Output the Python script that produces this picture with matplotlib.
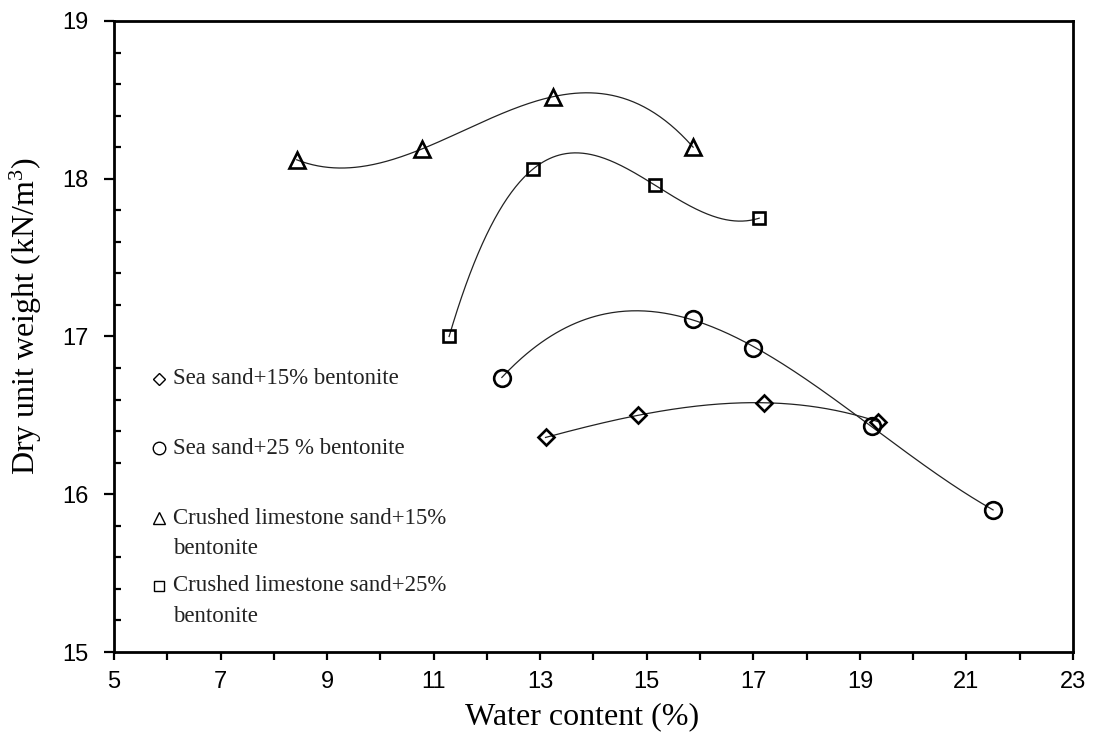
import numpy as np
import matplotlib
matplotlib.use("Agg")
import matplotlib.pyplot as plt
from matplotlib.ticker import MultipleLocator

plt.rcParams['mathtext.fontset'] = 'custom'
plt.rcParams['mathtext.rm'] = 'Liberation Serif'
plt.rcParams['mathtext.it'] = 'Liberation Serif:italic'

# Compaction test results: water content (%) vs dry unit weight (kN/m3)
sea15_w = [13.10, 14.83, 17.20, 19.34]
sea15_gd = [16.36, 16.50, 16.58, 16.46]

sea25_w = [12.28, 15.87, 16.99, 19.23, 21.50]
sea25_gd = [16.74, 17.11, 16.93, 16.43, 15.90]

lime15_w = [8.43, 10.79, 13.24, 15.87]
lime15_gd = [18.12, 18.19, 18.52, 18.20]

lime25_w = [11.29, 12.86, 15.15, 17.11]
lime25_gd = [17.00, 18.06, 17.96, 17.75]

labels = [
    ['Sea sand+15% bentonite'],
    ['Sea sand+25 % bentonite'],
    ['Crushed limestone sand+15%', 'bentonite'],
    ['Crushed limestone sand+25%', 'bentonite'],
]
series = [(sea15_w, sea15_gd), (sea25_w, sea25_gd),
          (lime15_w, lime15_gd), (lime25_w, lime25_gd)]
markers = ['D', 'o', '^', 's']
msizes = [8.5, 12, 12, 9]
leg_msizes = [6.5, 9, 9, 7]

fig = plt.figure(figsize=(10.95, 7.33), dpi=100)
ax = fig.add_axes([0.1041, 0.1105, 0.8758, 0.8609])

for (w, gd), m, ms in zip(series, markers, msizes):
    w = np.array(w)
    gd = np.array(gd)
    # polynomial trend line across the measured range
    coef = np.polyfit(w, gd, 3)
    xs = np.linspace(w.min(), w.max(), 300)
    ax.plot(xs, np.polyval(coef, xs), color='#222222', lw=0.9, zorder=2)
    ax.plot(w, gd, linestyle='none', marker=m, ms=ms, mfc='none',
            mec='black', mew=1.9, zorder=3)

ax.set_xlim(5, 23)
ax.set_ylim(15, 19)

ax.xaxis.set_major_locator(MultipleLocator(2, offset=1))
ax.xaxis.set_minor_locator(MultipleLocator(1))
ax.yaxis.set_major_locator(MultipleLocator(1))
ax.yaxis.set_minor_locator(MultipleLocator(0.2))

ax.tick_params(axis='x', which='both', direction='out', length=6, width=1.6,
               top=False, pad=8)
ax.tick_params(axis='y', which='major', direction='out', length=7, width=1.6,
               right=False, pad=11)
ax.tick_params(axis='y', which='minor', direction='in', length=5, width=1.6,
               right=False)
for lab in ax.get_xticklabels() + ax.get_yticklabels():
    lab.set_family('Liberation Sans')
    lab.set_fontsize(17)

for sp in ax.spines.values():
    sp.set_linewidth(2.0)

ax.set_xlabel('Water content (%)', family='Liberation Serif', fontsize=23)
ax.xaxis.set_label_coords(0.488, -0.08)
ax.set_ylabel('Dry unit weight (kN/m$^{3}$)', family='Liberation Serif',
              fontsize=23)
ax.yaxis.set_label_coords(-0.073, 0.532)

# legend drawn as markers and text inside the axes
leg_y = [0.433, 0.323, 0.212, 0.105]
line_gap = 0.048
for lines, m, ms, y in zip(labels, markers, leg_msizes, leg_y):
    ax.plot([0.047], [y], transform=ax.transAxes, marker=m, ms=ms, mfc='none',
            mec='black', mew=1.0, linestyle='none', clip_on=False)
    for i, txt in enumerate(lines):
        ax.text(0.0615, y - i * line_gap, txt, transform=ax.transAxes,
                family='Liberation Serif', fontsize=16.5, va='center',
                ha='left', color='#222222')

fig.savefig('out.png', dpi=100)
